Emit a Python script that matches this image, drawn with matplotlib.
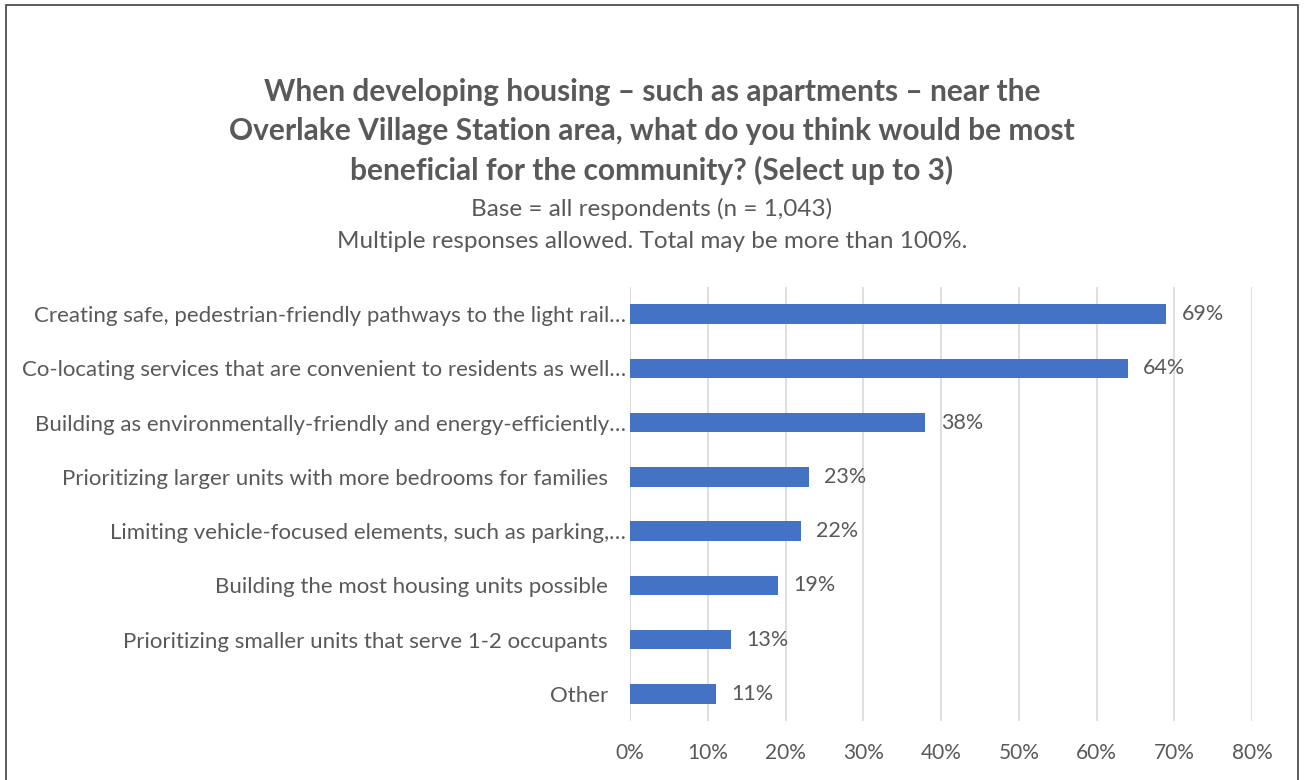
import matplotlib.pyplot as plt
from matplotlib.patches import Rectangle
from matplotlib.transforms import ScaledTranslation

categories = [
    'Creating safe, pedestrian-friendly pathways to the light rail…',
    'Co-locating services that are convenient to residents as well…',
    'Building as environmentally-friendly and energy-efficiently…',
    'Prioritizing larger units with more bedrooms for families',
    'Limiting vehicle-focused elements, such as parking,…',
    'Building the most housing units possible',
    'Prioritizing smaller units that serve 1-2 occupants',
    'Other',
]
percents = [69, 64, 38, 23, 22, 19, 13, 11]
x_ticks = [0, 10, 20, 30, 40, 50, 60, 70, 80]

TEXT = '#595959'
BAR = '#4472C4'
GRID = '#D9D9D9'

plt.rcParams['font.family'] = ['Lato', 'DejaVu Sans']

fig = plt.figure(figsize=(13.04, 7.80), dpi=100)
W, H = 1304, 780

# outer frame (bottom edge falls off the canvas)
fig.patches.append(Rectangle((6 / W, -0.05), 1292 / W, 1.05 - 5 / H,
                             transform=fig.transFigure, fill=False,
                             edgecolor='#404040', linewidth=1.2))

ax = fig.add_axes([630 / W, 1 - 721 / H, 622 / W, 434 / H])

ypos = list(range(len(categories)))
ax.barh(ypos, percents, height=0.36, color=BAR, zorder=3)
ax.set_ylim(len(categories) - 0.5, -0.5)
ax.set_xlim(0, 80)

for y, v in zip(ypos, percents):
    ax.annotate(f'{v}%', (v, y), xytext=(11, 0), textcoords='offset points',
                va='center', ha='left', fontsize=15.5, color=TEXT)

ax.set_yticks(ypos)
ax.set_yticklabels(categories, fontsize=16, color=TEXT)
ax.set_xticks(x_ticks)
ax.set_xticklabels([f'{t}%' for t in x_ticks], fontsize=15, color=TEXT)
ax.tick_params(axis='y', length=0, pad=3)
ax.tick_params(axis='x', length=0, pad=16)

# truncated labels let the ellipsis hang past the others
for lbl in ax.get_yticklabels():
    if not lbl.get_text().endswith('…'):
        lbl.set_transform(lbl.get_transform() +
                          ScaledTranslation(-13 / 72, 0, fig.dpi_scale_trans))

ax.grid(axis='x', color=GRID, linewidth=1.2, zorder=0)
for s in ax.spines.values():
    s.set_visible(False)
ax.axvline(0, color=GRID, linewidth=1.2, zorder=1)

title_lines = [
    'When developing housing – such as apartments – near the',
    'Overlake Village Station area, what do you think would be most',
    'beneficial for the community? (Select up to 3)',
]
for line, ypx in zip(title_lines, [92, 131, 170]):
    fig.text(0.5, 1 - ypx / H, line, ha='center', va='center',
             fontsize=21.5, fontweight='bold', color=TEXT)
fig.text(0.5, 1 - 209 / H, 'Base = all respondents (n = 1,043)',
         ha='center', va='center', fontsize=17.5, color=TEXT)
fig.text(0.5, 1 - 241 / H,
         'Multiple responses allowed. Total may be more than 100%.',
         ha='center', va='center', fontsize=17.5, color=TEXT)

fig.savefig('out.png', dpi=100)
